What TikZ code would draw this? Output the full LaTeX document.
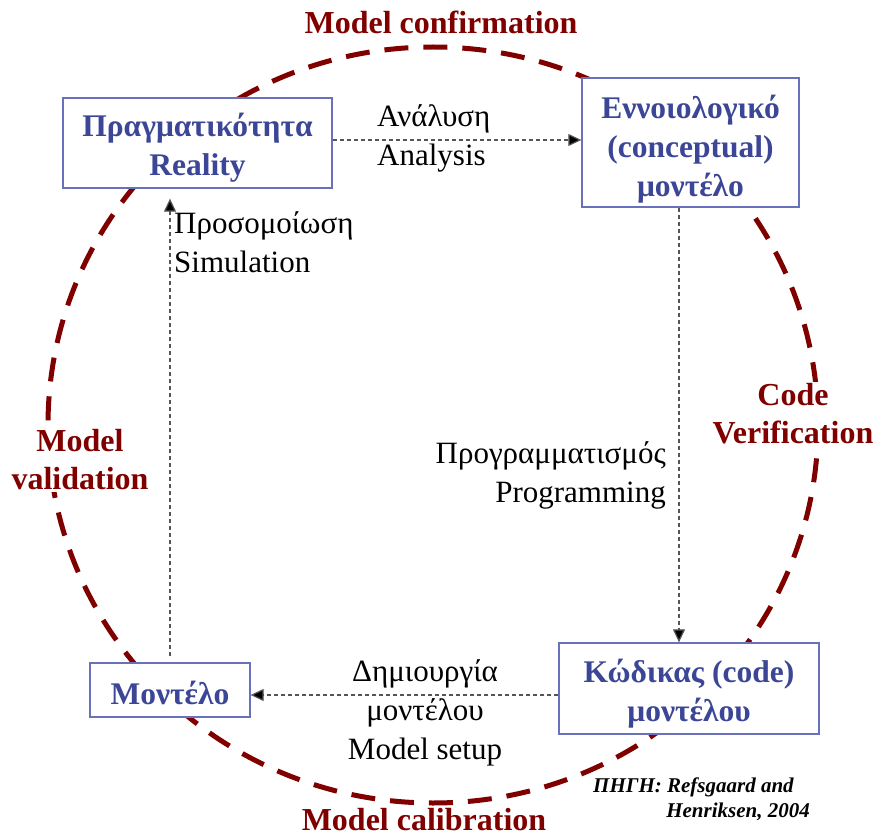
\documentclass[tikz,border=0pt]{standalone}
\usepackage{fontspec}
\setmainfont{Liberation Serif}
\usetikzlibrary{arrows.meta}
\definecolor{cycred}{RGB}{128,0,0}
\definecolor{textblue}{RGB}{60,70,150}
\definecolor{boxblue}{RGB}{105,112,188}
\definecolor{flowgray}{RGB}{85,85,85}
\tikzset{
  stagebox/.style={draw=boxblue, line width=1.3pt, fill=white, inner sep=0pt},
  stagetext/.style={text=textblue, font=\fontsize{31.5}{39}\selectfont\bfseries,
    align=center, inner sep=0pt, yshift=-5pt},
  flow/.style={draw=flowgray, line width=1.2pt, dash pattern=on 4pt off 3pt,
    -{Triangle[length=13pt,width=12pt,fill=black]}},
  steplabel/.style={font=\fontsize{31}{39}\selectfont, text=black, inner sep=0pt},
  cyclabel/.style={font=\fontsize{32}{38}\selectfont\bfseries, text=cycred, align=center},
  cycring/.style={draw=cycred, line width=5pt, dash pattern=on 24pt off 15pt},
  srclabel/.style={font=\fontsize{21}{25}\selectfont\bfseries\itshape, text=black, inner sep=0pt}
}
\begin{document}
\begin{tikzpicture}[x=1pt, y=-1pt]
  \useasboundingbox (0,0) rectangle (876,837);

  % dashed modelling cycle
  \draw[cycring] (433,425) ellipse [x radius=385pt, y radius=378pt];

  % stages
  \node[stagebox, minimum width=269pt, minimum height=90pt,
        label={[stagetext]center:Πραγματικότητα\\Reality}] (real) at (197.5,143) {};
  \node[stagebox, minimum width=217pt, minimum height=129pt,
        label={[stagetext, yshift=-2pt]center:Εννοιολογικό\\(conceptual)\\μοντέλο}] (concept) at (690.5,142.5) {};
  \node[stagebox, minimum width=260pt, minimum height=91pt,
        label={[stagetext]center:Κώδικας (code)\\μοντέλου}] (code) at (689,688.5) {};
  \node[stagebox, minimum width=160pt, minimum height=54pt,
        label={[stagetext, yshift=2pt]center:Μοντέλο}] (model) at (170,690) {};

  % transitions between stages
  \draw[flow] (real.east |- 0,140) -- (concept.west |- 0,140);
  \draw[flow] (concept.south -| 679,0) -- (code.north -| 679,0);
  \draw[flow] (code.west |- 0,695) -- (model.east |- 0,695);
  \draw[flow, shorten <=6pt, shorten >=10pt] (model.north) -- (model.north |- real.south);

  % transition labels
  \node[steplabel, anchor=west, align=left] (lanal) at (377,138) {Ανάλυση\\Analysis};
  \node[steplabel, anchor=west, align=left] (lsim) at (174,242) {Προσομοίωση\\Simulation};
  \node[steplabel, anchor=east, align=right] (lprog) at (666,475) {Προγραμματισμός\\Programming};
  \node[steplabel, align=center] (lsetup) at (425,713) {Δημιουργία\\μοντέλου\\Model setup};

  % cycle phase labels
  \node[cyclabel] (conf) at (441,22) {Model confirmation};
  \node[cyclabel, fill=white, inner sep=2pt] (verif) at (793,414) {Code\\Verification};
  \node[cyclabel, fill=white, inner sep=2pt] (valid) at (80,460) {Model\\validation};
  \node[cyclabel, inner sep=0pt] (calib) at (424,820) {Model calibration};

  % source
  \node[srclabel, anchor=west] (src1) at (593,787) {ΠΗΓΗ: Refsgaard and};
  \node[srclabel, anchor=east] (src2) at (810,812) {Henriksen, 2004};
\end{tikzpicture}
\end{document}
